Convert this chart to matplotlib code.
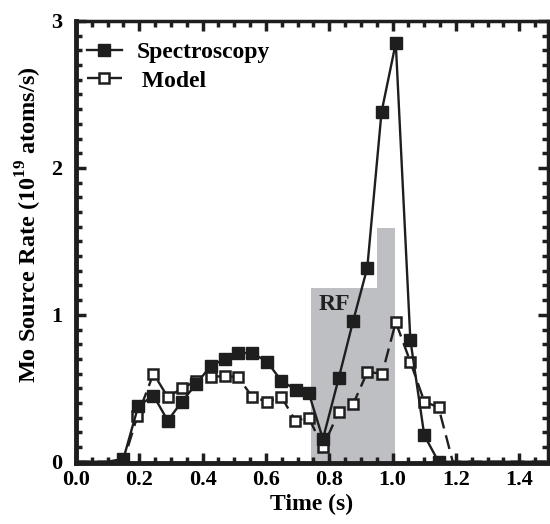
import matplotlib
matplotlib.use("Agg")
import matplotlib.pyplot as plt
import numpy as np
from matplotlib.ticker import MultipleLocator

plt.rcParams['font.family'] = ['Liberation Serif', 'DejaVu Serif']
plt.rcParams['font.weight'] = 'bold'
plt.rcParams['mathtext.fontset'] = 'custom'
plt.rcParams['mathtext.rm'] = 'Liberation Serif:bold'

# spectroscopy measurement (filled squares)
t_spec = [0.0, 0.05, 0.10, 0.15, 0.197, 0.245, 0.29, 0.335, 0.38, 0.425, 0.47,
          0.513, 0.557, 0.604, 0.649, 0.695, 0.735, 0.78, 0.83, 0.875, 0.92,
          0.965, 1.01, 1.056, 1.10, 1.145, 1.2, 1.3, 1.4, 1.49]
r_spec = [0.0, 0.0, 0.0, 0.02, 0.38, 0.45, 0.28, 0.41, 0.53, 0.65, 0.70,
          0.74, 0.74, 0.68, 0.55, 0.49, 0.47, 0.155, 0.57, 0.955, 1.32,
          2.38, 2.85, 0.83, 0.18, 0.0, 0.0, 0.0, 0.0, 0.0]

# model (open squares)
t_model = [0.0, 0.05, 0.10, 0.15, 0.194, 0.245, 0.29, 0.335, 0.38, 0.425, 0.47,
           0.513, 0.557, 0.604, 0.649, 0.693, 0.735, 0.78, 0.83, 0.875, 0.92,
           0.967, 1.01, 1.056, 1.10, 1.145, 1.19, 1.3, 1.4, 1.49]
r_model = [0.0, 0.0, 0.0, 0.0, 0.31, 0.60, 0.44, 0.50, 0.55, 0.575, 0.585,
           0.575, 0.44, 0.41, 0.44, 0.28, 0.30, 0.10, 0.34, 0.39, 0.61,
           0.60, 0.95, 0.68, 0.41, 0.37, 0.0, 0.0, 0.0, 0.0]

# RF heating window (stepped shading)
rf_t = [0.741, 0.95, 0.95, 1.009]
rf_h = [1.18, 1.18, 1.59, 1.59]

fig = plt.figure(figsize=(5.5, 5.24), dpi=100)
ax = fig.add_axes([0.138, 0.116, 0.858, 0.844])

ax.fill_between(rf_t, 0, rf_h, color='#bebfc3', lw=0, zorder=1)
ax.text(0.765, 1.03, 'RF', fontsize=17, fontweight='bold', color='#222222', zorder=2)

# markers only where the measurement/model is sampled (zero tails unmarked)
ax.plot(t_spec, r_spec, '-', color='#1e1e1e', lw=1.7, marker='s', ms=8.5,
        mfc='#1e1e1e', mec='#1e1e1e', markevery=slice(3, 26),
        label='Spectroscopy', zorder=4)
ax.plot(t_model, r_model, '--', color='#1e1e1e', lw=1.7, dashes=(6, 3),
        marker='s', ms=7.5, mfc='white', mec='#1e1e1e', mew=1.8,
        markevery=slice(4, 26), label=' Model', zorder=3)

ax.set_xlim(0, 1.49)
ax.set_ylim(-0.01, 3)
ax.xaxis.set_major_locator(MultipleLocator(0.2))
ax.xaxis.set_minor_locator(MultipleLocator(0.05))
ax.yaxis.set_major_locator(MultipleLocator(1))
ax.yaxis.set_minor_locator(MultipleLocator(0.1))
ax.xaxis.set_major_formatter(plt.FuncFormatter(lambda v, p: '%.1f' % v))
ax.yaxis.set_major_formatter(plt.FuncFormatter(lambda v, p: '%d' % round(v)))

ax.tick_params(which='both', direction='in', top=True, right=True,
               labelsize=16, color='#1e1e1e')
ax.tick_params(which='major', length=7, width=2.5)
ax.tick_params(which='minor', length=4, width=2.5)
ax.tick_params(axis='y', pad=10)
ax.tick_params(axis='x', pad=5)
for s in ax.spines.values():
    s.set_linewidth(2.5)
    s.set_color('#1e1e1e')
ax.spines['left'].set_linewidth(3.5)
ax.spines['bottom'].set_linewidth(3.5)

ax.set_xlabel('Time (s)', fontsize=17, fontweight='bold', labelpad=3)
ax.set_ylabel(r'Mo Source Rate (10$^{19}$ atoms/s)', fontsize=17.5,
              fontweight='bold')
ax.yaxis.set_label_coords(-0.068, 0.54)

leg = ax.legend(loc='upper left', frameon=False, fontsize=17,
                handlelength=1.5, handletextpad=0.6, labelspacing=0.3,
                borderaxespad=0.0, bbox_to_anchor=(0.003, 0.975))
for txt in leg.get_texts():
    txt.set_fontweight('bold')

fig.savefig('out.png', dpi=100)
